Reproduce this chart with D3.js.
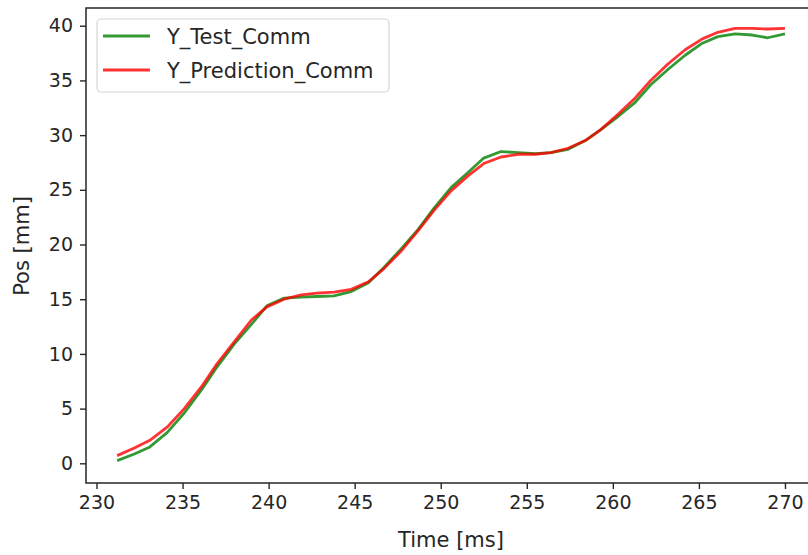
<!DOCTYPE html>
<html>
<head>
<meta charset="utf-8">
<script src="https://cdn.jsdelivr.net/npm/d3@7"></script>
<style>
  body { margin: 0; background: #fff; }
  svg { display: block; font-family: "DejaVu Sans", sans-serif; }
</style>
</head>
<body>
<svg id="chart" width="808" height="555"></svg>
<script>
// time stamps [ms]
const timeMs = [231.2, 232.2, 233.1, 234.1, 235.1, 236.1, 237.0, 238.0, 239.0, 239.9,
  240.9, 241.9, 242.8, 243.8, 244.8, 245.8, 246.7, 247.7, 248.7, 249.6,
  250.6, 251.6, 252.5, 253.5, 254.5, 255.5, 256.4, 257.4, 258.4, 259.3,
  260.3, 261.3, 262.2, 263.2, 264.2, 265.2, 266.1, 267.1, 268.1, 269.0, 270.0];

const yTest = [0.25, 0.85, 1.5, 2.8, 4.6, 6.7, 8.8, 10.9, 12.7, 14.4,
  15.1, 15.2, 15.25, 15.3, 15.7, 16.5, 17.9, 19.6, 21.4, 23.3,
  25.2, 26.6, 27.9, 28.5, 28.4, 28.3, 28.4, 28.7, 29.5, 30.5,
  31.7, 33.0, 34.6, 36.0, 37.3, 38.4, 39.0, 39.25, 39.15, 38.9, 39.25];

const yPred = [0.7, 1.4, 2.1, 3.3, 5.0, 7.0, 9.1, 11.1, 13.1, 14.3,
  15.0, 15.4, 15.55, 15.65, 15.9, 16.6, 17.8, 19.4, 21.3, 23.1,
  24.9, 26.3, 27.4, 28.0, 28.25, 28.25, 28.4, 28.8, 29.5, 30.5,
  31.9, 33.4, 35.0, 36.5, 37.8, 38.8, 39.4, 39.75, 39.75, 39.7, 39.75];

const xTicks = [230, 235, 240, 245, 250, 255, 260, 265, 270];
const yTicks = [0, 5, 10, 15, 20, 25, 30, 35, 40];

const seriesNames = ["Y_Test_Comm", "Y_Prediction_Comm"];
const seriesColors = ["green", "red"];

const plot = {left: 86, right: 818, top: 8, bottom: 483};
const ink = "#262626";

const svg = d3.select("#chart");

const x = d3.scaleLinear().domain([229.39, 271.92]).range([plot.left, plot.right]);
const y = d3.scaleLinear().domain([-1.8, 41.62]).range([plot.bottom, plot.top]);

// axes
const xAxis = svg.append("g")
  .attr("transform", `translate(0,${plot.bottom})`)
  .call(d3.axisBottom(x).tickValues(xTicks).tickSize(6).tickPadding(7).tickFormat(d3.format("d")));
const yAxis = svg.append("g")
  .attr("transform", `translate(${plot.left},0)`)
  .call(d3.axisLeft(y).tickValues(yTicks).tickSize(6).tickPadding(7).tickFormat(d3.format("d")));

[xAxis, yAxis].forEach(g => {
  g.select(".domain").remove();
  g.selectAll(".tick line").attr("stroke", ink).attr("stroke-width", 1.4);
  g.selectAll(".tick text").attr("fill", ink).style("font-size", "19px")
    .style("font-family", "DejaVu Sans, sans-serif");
});

// series lines
const line = d3.line()
  .x((d, i) => x(timeMs[i]))
  .y(d => y(d));

[yTest, yPred].forEach((vals, k) => {
  svg.append("path")
    .datum(vals)
    .attr("fill", "none")
    .attr("stroke", seriesColors[k])
    .attr("stroke-opacity", 0.8)
    .attr("stroke-width", 2.8)
    .attr("stroke-linejoin", "round")
    .attr("d", line);
});

// frame
svg.append("rect")
  .attr("x", plot.left).attr("y", plot.top)
  .attr("width", plot.right - plot.left).attr("height", plot.bottom - plot.top)
  .attr("fill", "none").attr("stroke", ink).attr("stroke-width", 1.5);

// axis labels
svg.append("text")
  .attr("x", 451).attr("y", 547)
  .attr("text-anchor", "middle").attr("fill", ink)
  .style("font-size", "21px")
  .text("Time [ms]");

svg.append("text")
  .attr("transform", "translate(29,246) rotate(-90)")
  .attr("text-anchor", "middle").attr("fill", ink)
  .style("font-size", "21px")
  .text("Pos [mm]");

// legend
const legend = svg.append("g");
legend.append("rect")
  .attr("x", 97).attr("y", 19).attr("width", 292).attr("height", 73)
  .attr("rx", 4)
  .attr("fill", "#fff").attr("fill-opacity", 0.8)
  .attr("stroke", "#d5d5d5").attr("stroke-width", 1.2);

seriesNames.forEach((name, k) => {
  const ly = 36 + k * 34;
  legend.append("line")
    .attr("x1", 103).attr("x2", 150).attr("y1", ly).attr("y2", ly)
    .attr("stroke", seriesColors[k]).attr("stroke-opacity", 0.8).attr("stroke-width", 2.8);
  legend.append("text")
    .attr("x", 167).attr("y", ly + 8)
    .attr("fill", ink)
    .style("font-size", "21px")
    .text(name);
});
</script>
</body>
</html>
